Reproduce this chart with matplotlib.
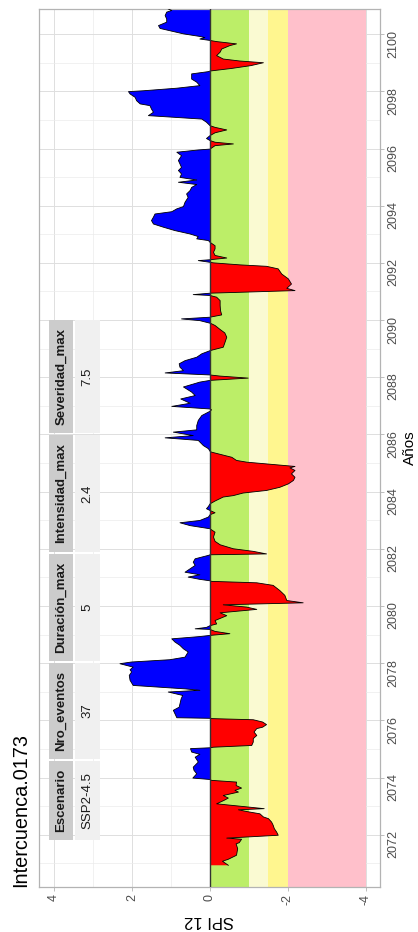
import matplotlib
matplotlib.use('Agg')
import matplotlib.pyplot as plt
from matplotlib.patches import Rectangle
import numpy as np

plt.rcParams['font.family'] = ['Liberation Sans', 'DejaVu Sans']

# ---------------- data ----------------
anio = [
    2070.93, 2071.07, 2071.14, 2071.28, 2071.51, 2071.68, 2071.72, 2071.84, 2071.88, 2071.98,
    2072.09, 2072.21, 2072.33, 2072.44, 2072.56, 2072.62, 2072.73, 2072.81, 2072.87, 2072.91,
    2073.08, 2073.20, 2073.28, 2073.37, 2073.49, 2073.55, 2073.63, 2073.72, 2073.84, 2073.90,
    2073.93, 2073.98, 2074.13, 2074.25, 2074.36, 2074.54, 2074.71, 2074.81, 2074.89, 2075.01,
    2075.04, 2075.06, 2075.12, 2075.24, 2075.36, 2075.47, 2075.59, 2075.71, 2075.76, 2075.85,
    2075.94, 2076.02, 2076.06, 2076.07, 2076.09, 2076.23, 2076.35, 2076.46, 2076.58, 2076.75,
    2076.87, 2076.99, 2077.05, 2077.10, 2077.22, 2077.40, 2077.57, 2077.69, 2077.77, 2077.86,
    2077.98, 2078.04, 2078.12, 2078.21, 2078.39, 2078.50, 2078.62, 2078.74, 2078.85, 2078.93,
    2078.97, 2079.03, 2079.11, 2079.18, 2079.20, 2079.25, 2079.31, 2079.37, 2079.49, 2079.66,
    2079.76, 2079.88, 2079.96, 2080.04, 2080.11, 2080.19, 2080.37, 2080.54, 2080.72, 2080.81,
    2080.86, 2080.88, 2080.93, 2081.01, 2081.09, 2081.18, 2081.30, 2081.42, 2081.53, 2081.65,
    2081.77, 2081.79, 2081.82, 2081.91, 2082.00, 2082.14, 2082.26, 2082.41, 2082.58, 2082.70,
    2082.81, 2082.91, 2082.99, 2083.11, 2083.19, 2083.26, 2083.34, 2083.40, 2083.48, 2083.57,
    2083.67, 2083.81, 2083.86, 2083.95, 2084.04, 2084.15, 2084.27, 2084.39, 2084.50, 2084.62,
    2084.74, 2084.83, 2084.88, 2084.97, 2085.03, 2085.09, 2085.20, 2085.38, 2085.41, 2085.50,
    2085.61, 2085.79, 2085.88, 2085.96, 2086.08, 2086.16, 2086.31, 2086.49, 2086.66, 2086.78,
    2086.81, 2086.86, 2086.89, 2086.98, 2087.09, 2087.24, 2087.36, 2087.48, 2087.66, 2087.83,
    2087.89, 2087.97, 2088.04, 2088.08, 2088.15, 2088.23, 2088.35, 2088.47, 2088.58, 2088.70,
    2088.82, 2088.93, 2089.05, 2089.20, 2089.40, 2089.55, 2089.67, 2089.81, 2089.87, 2089.89,
    2089.98, 2090.04, 2090.10, 2090.18, 2090.33, 2090.51, 2090.68, 2090.80, 2090.86, 2090.89,
    2090.94, 2091.03, 2091.11, 2091.26, 2091.44, 2091.61, 2091.79, 2091.88, 2091.93, 2092.00,
    2092.02, 2092.08, 2092.11, 2092.17, 2092.26, 2092.37, 2092.49, 2092.60, 2092.72, 2092.78,
    2092.84, 2092.92, 2093.01, 2093.13, 2093.25, 2093.36, 2093.48, 2093.60, 2093.71, 2093.79,
    2093.89, 2093.97, 2094.12, 2094.29, 2094.41, 2094.53, 2094.64, 2094.74, 2094.82, 2094.90,
    2094.99, 2095.11, 2095.23, 2095.34, 2095.46, 2095.58, 2095.75, 2095.87, 2095.95, 2095.98,
    2096.10, 2096.16, 2096.22, 2096.28, 2096.35, 2096.45, 2096.55, 2096.65, 2096.74, 2096.80,
    2096.92, 2097.03, 2097.15, 2097.27, 2097.38, 2097.50, 2097.56, 2097.67, 2097.79, 2097.91,
    2097.99, 2098.02, 2098.11, 2098.20, 2098.32, 2098.43, 2098.61, 2098.69, 2098.71, 2098.80,
    2098.90, 2099.00, 2099.06, 2099.13, 2099.25, 2099.37, 2099.48, 2099.60, 2099.66, 2099.74,
    2099.78, 2099.83, 2099.88, 2099.92, 2100.01, 2100.12, 2100.20, 2100.30, 2100.42, 2100.53,
    2100.65, 2100.77, 2100.83, 2100.88,
]
spi = [
    -0.47, -0.32, -0.47, -0.68, -0.71, -0.67, -0.75, -0.81, -0.43, -1.75,
    -1.71, -1.65, -1.62, -1.58, -1.50, -1.37, -1.28, -0.94, -0.73, -1.39,
    -0.17, -0.36, -0.47, -0.34, -0.73, -0.64, -0.81, -0.67, -0.68, -0.04,
    0.00, 0.44, 0.34, 0.41, 0.43, 0.30, 0.38, 0.26, 0.47, 0.50,
    0.00, -0.09, -1.07, -1.11, -1.11, -1.20, -1.13, -1.20, -1.35, -1.45,
    -1.35, -1.11, -0.04, 0.00, 0.85, 0.90, 0.94, 0.79, 0.77, 0.74,
    0.70, 1.07, 0.26, 0.64, 1.97, 2.05, 2.07, 2.01, 2.05, 1.97,
    2.31, 2.01, 1.03, 0.64, 0.56, 0.68, 0.77, 0.90, 0.98, 0.26,
    0.00, -0.51, -0.13, 0.00, 0.38, 0.09, 0.00, -0.17, -0.13, -0.43,
    -0.26, -1.20, -0.94, -0.34, -2.39, -1.97, -1.92, -1.79, -1.62, -1.20,
    -0.04, 0.00, 0.26, 0.56, 0.26, 0.64, 0.51, 0.38, 0.43, 0.38,
    0.04, 0.00, -1.45, -1.11, -0.60, -0.26, -0.13, -0.09, -0.13, 0.00,
    0.51, 0.77, 0.26, 0.04, 0.00, -0.13, 0.00, 0.09, 0.04, 0.00,
    -0.13, -0.34, -0.60, -0.85, -1.45, -1.79, -2.01, -2.14, -2.18, -2.09,
    -2.18, -2.05, -2.18, -1.45, -0.94, -0.68, -0.56, -0.04, 0.00, 0.04,
    0.17, 0.30, 1.15, 0.43, 0.94, 0.34, 0.34, 0.30, 0.21, 0.04,
    0.00, -0.04, 0.00, 0.98, 0.51, 0.75, 0.38, 0.47, 0.68, 0.26,
    0.00, -0.98, -0.26, 0.00, 1.15, 0.68, 0.77, 0.79, 0.64, 0.34,
    0.21, 0.00, -0.34, -0.38, -0.43, -0.38, -0.26, -0.13, -0.04, 0.00,
    0.26, 0.73, 0.00, -0.30, -0.27, -0.26, -0.26, -0.17, 0.00, 0.43,
    0.00, -2.18, -1.97, -2.09, -2.01, -1.84, -1.75, -1.45, -0.77, -0.09,
    0.00, 0.30, 0.00, -0.43, -0.13, -0.09, -0.13, -0.13, 0.00, 0.04,
    0.34, 0.30, 0.51, 0.90, 1.20, 1.45, 1.50, 1.45, 1.41, 0.98,
    0.85, 0.68, 0.64, 0.56, 0.60, 0.51, 0.47, 0.34, 0.81, 0.34,
    0.77, 0.73, 0.81, 0.73, 0.77, 0.81, 0.73, 0.85, 0.30, 0.00,
    -0.13, -0.60, -0.13, 0.00, 0.09, 0.00, -0.13, -0.43, -0.13, 0.00,
    0.09, 0.21, 1.58, 1.45, 1.50, 1.54, 1.79, 1.88, 1.92, 2.05,
    2.09, 1.71, 0.85, 0.26, 0.34, 0.47, 0.47, 0.04, 0.00, -0.55,
    -1.05, -1.37, -0.77, -0.34, -0.17, -0.26, -0.30, -0.51, -0.68, -0.17,
    0.00, 0.26, 0.13, 0.26, 0.68, 1.03, 1.28, 1.32, 1.11, 1.11,
    1.15, 1.11, 0.98, 1.07,
]
spi_ticks = [4, 2, 0, -2, -4]
spi_labels = ['4', '2', '0', '-2', '-4']
spi_minor = [3, 1, -1, -3]
anio_ticks = list(range(2072, 2101, 2))
anio_minor = list(range(2071, 2101, 2))
bandas_lim = [(0, -1), (-1, -1.5), (-1.5, -2), (-2, -4)]
bandas_col = ['#BCEE68', '#FAFAD2', '#FFF68F', '#FFC0CB']
tabla_cols = ['Escenario', 'Nro_eventos', 'Duración_max', 'Intensidad_max', 'Severidad_max']
tabla_vals = ['SSP2-4.5', '37', '5', '2.4', '7.5']
titulo = 'Intercuenca.0173'

# ---------------- figure ----------------
W, H = 418, 932
fig = plt.figure(figsize=(W / 100, H / 100), dpi=100)
fig.patch.set_facecolor('white')
ax = fig.add_axes([39 / W, 1 - 887 / H, (380 - 39) / W, (887 - 9) / H])
ax.set_xlim(4.385, -4.36)
ax.set_ylim(2070.17, 2100.88)

for (x0, x1), c in zip(bandas_lim, bandas_col):
    ax.axvspan(x1, x0, color=c, lw=0, zorder=1)

a = np.array(anio)
s = np.array(spi)
ax.fill_betweenx(a, 0, s, where=s >= 0, interpolate=True, color='#0000FF', lw=0, zorder=2)
ax.fill_betweenx(a, 0, s, where=s <= 0, interpolate=True, color='#FF0000', lw=0, zorder=2)
ax.plot(s, a, color='black', lw=0.6, zorder=3)
ax.axvline(0, color='#333333', lw=1.0, zorder=3)

ax.set_axisbelow(True)
ax.set_xticks(spi_ticks, spi_labels)
ax.set_xticks(spi_minor, minor=True)
ax.yaxis.tick_right()
ax.set_yticks(anio_ticks, [str(y) for y in anio_ticks])
ax.set_yticks(anio_minor, minor=True)
ax.grid(which='major', color='#dedede', lw=0.7)
ax.grid(which='minor', color='#ebebeb', lw=0.5)
for sp in ax.spines.values():
    sp.set_color('#b3b3b3')
    sp.set_linewidth(0.9)
ax.tick_params(axis='both', which='major', length=3, width=0.6, color='#b3b3b3',
               labelcolor='#4d4d4d', labelsize=9, pad=2)
ax.tick_params(axis='both', which='minor', length=0)
ax.tick_params(axis='x', labelrotation=90)
ax.tick_params(axis='y', labelrotation=90)

fig.text(209.5 / W, 1 - 920 / H, 'SPI 12', rotation=180, ha='center', va='center', fontsize=12)
fig.text(410 / W, 1 - 448 / H, 'Años', rotation=90, ha='center', va='center', fontsize=11)
fig.text(21 / W, 1 - 887 / H, titulo, rotation=90, ha='center', va='bottom', fontsize=14.3)

# ---------------- table ----------------
filas_px = [(761, 840), (663, 759), (554, 661), (435, 552), (320, 433)]
col_head = (49, 73)
col_val = (75, 100)
for (y0, y1), cab, val in zip(filas_px, tabla_cols, tabla_vals):
    for (x0, x1), txt, fc, fw in [(col_head, cab, '#cccccc', 'bold'), (col_val, val, '#f0f0f0', 'normal')]:
        fig.add_artist(Rectangle((x0 / W, 1 - y1 / H), (x1 - x0) / W, (y1 - y0) / H,
                                 transform=fig.transFigure, facecolor=fc, edgecolor='none', zorder=5))
        fig.text((x0 + x1) / 2 / W, 1 - (y0 + y1) / 2 / H, txt, rotation=90, ha='center', va='center',
                 fontsize=9.5, fontweight=fw, color='#1a1a1a', zorder=6)

fig.savefig('out.png', dpi=100, facecolor='white')
